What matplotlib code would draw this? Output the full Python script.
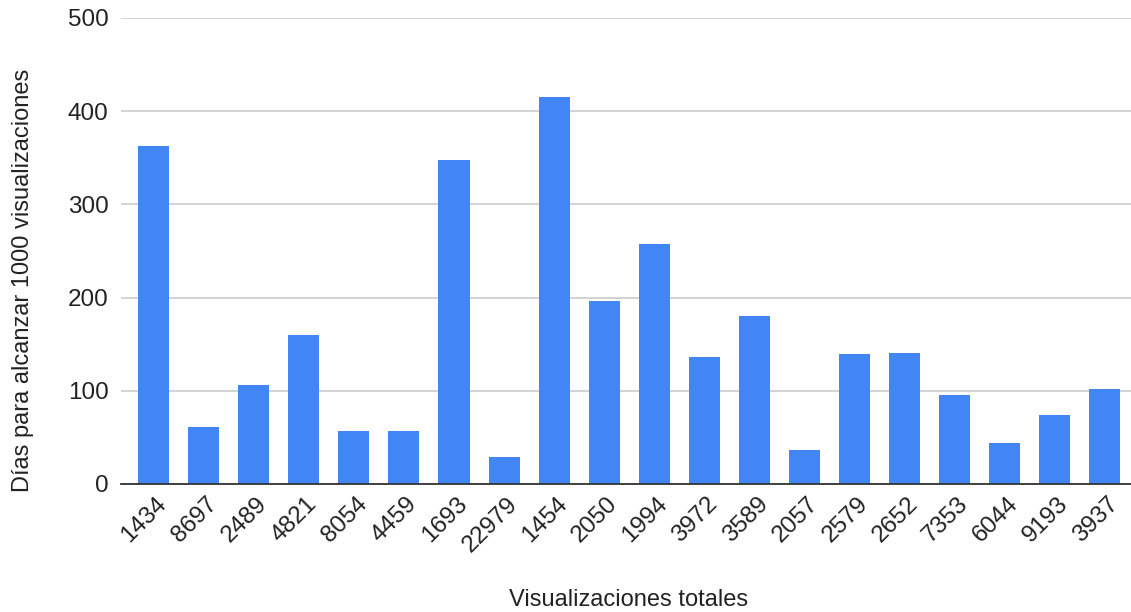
import matplotlib
matplotlib.use("Agg")
import matplotlib.pyplot as plt
from matplotlib.transforms import ScaledTranslation

categories = ["1434", "8697", "2489", "4821", "8054", "4459", "1693", "22979", "1454", "2050",
              "1994", "3972", "3589", "2057", "2579", "2652", "7353", "6044", "9193", "3937"]
values = [363, 61, 106, 160, 57, 57, 348, 29, 415, 196,
          257, 136, 180, 37, 139, 141, 95, 44, 74, 102]
yticks = [0, 100, 200, 300, 400, 500]

plt.rcParams['font.family'] = ['Liberation Sans', 'DejaVu Sans']

W, H = 1131, 612
fig = plt.figure(figsize=(W / 100, H / 100), dpi=100)
ax = fig.add_axes([121 / W, (H - 484) / H, (1131 - 121) / W, (484 - 18) / H])

x = list(range(len(categories)))
ax.bar(x, values, width=0.62, color='#4285F4', zorder=3)

ax.set_ylim(0, 500)
ax.set_xlim(-0.65, 19.52)
ax.set_yticks(yticks)
ax.set_yticklabels([str(t) for t in yticks], fontsize=17.5, color='#222222')
ax.yaxis.grid(True, color='#cccccc', linewidth=1.2, zorder=0)
ax.set_axisbelow(True)
for s in ['top', 'right', 'left']:
    ax.spines[s].set_visible(False)
ax.spines['bottom'].set_color('#333333')
ax.spines['bottom'].set_linewidth(1.3)
ax.spines['bottom'].set_zorder(4)
ax.tick_params(axis='both', length=0)
ax.tick_params(axis='y', pad=9)

ax.set_xticks(x)
ax.set_xticklabels(categories, fontsize=17.5, color='#222222', rotation=45,
                   ha='right', va='center', rotation_mode='anchor')
ax.tick_params(axis='x', pad=12)
offset = ScaledTranslation(10 / 100, 0, fig.dpi_scale_trans)
for lab in ax.get_xticklabels():
    lab.set_transform(lab.get_transform() + offset)

fig.text(0.556, (H - 600) / H, 'Visualizaciones totales', fontsize=17, color='#222222',
         ha='center', va='center')
fig.text(0.020, (H - 280) / H, 'Días para alcanzar 1000 visualizaciones', fontsize=17,
         color='#222222', rotation=90, ha='center', va='center')

fig.savefig('out.png', dpi=100)
